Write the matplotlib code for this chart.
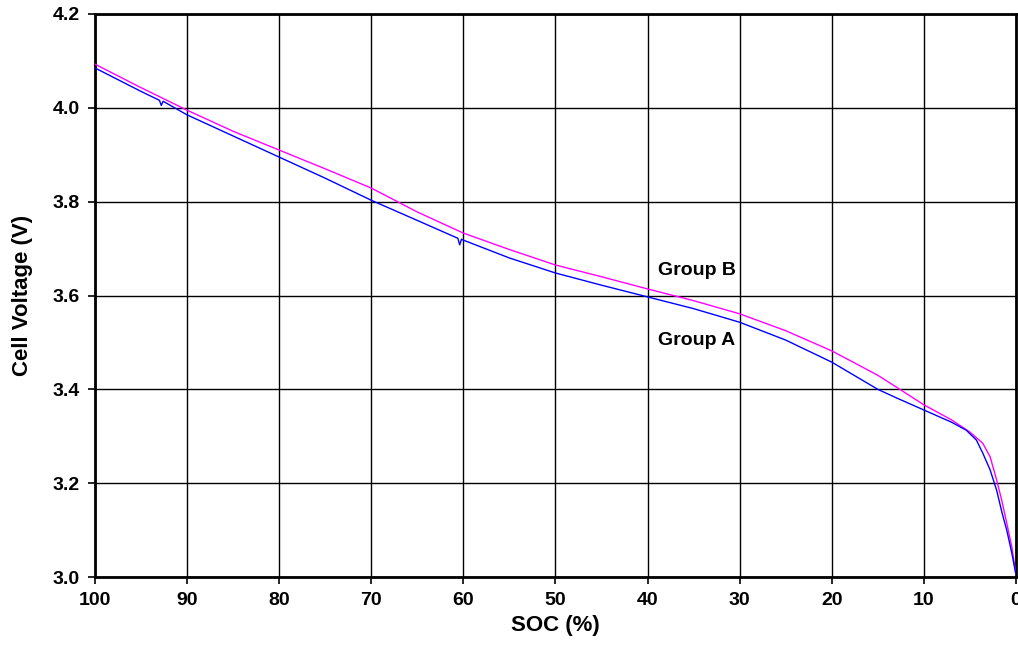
import matplotlib.pyplot as plt

plt.rcParams['font.family'] = ['Liberation Sans', 'DejaVu Sans']

# SOC (%) and cell voltages
soc_b = [100, 95, 90, 85, 80, 75, 70, 65, 60, 55, 50, 45, 40, 35, 30, 25, 20, 15,
         13, 10, 7, 5, 3.6, 2.8, 2.1, 1.55, 1.0, 0.45, 0]
volt_b = [4.093, 4.043, 3.995, 3.950, 3.910, 3.870, 3.829, 3.778, 3.733, 3.698,
          3.665, 3.640, 3.614, 3.589, 3.561, 3.525, 3.482, 3.430, 3.405, 3.367,
          3.335, 3.309, 3.285, 3.256, 3.207, 3.164, 3.115, 3.064, 3.005]

soc_a = [100, 95, 93, 92.8, 92.6, 90, 85, 80, 75, 70, 65, 60.6, 60.4, 60.2, 60,
         55, 50, 45, 40, 35, 30, 25, 20, 15, 13, 10, 7, 5.4, 4.3, 3.6, 2.8, 2.1,
         1.5, 1.0, 0.45, 0]
volt_a = [4.085, 4.035, 4.016, 4.005, 4.014, 3.985, 3.940, 3.895, 3.850, 3.803,
          3.760, 3.722, 3.708, 3.720, 3.718, 3.680, 3.648, 3.622, 3.597, 3.572,
          3.543, 3.505, 3.458, 3.400, 3.382, 3.356, 3.330, 3.313, 3.292, 3.264,
          3.228, 3.185, 3.136, 3.100, 3.051, 3.005]

x_ticks = [100, 90, 80, 70, 60, 50, 40, 30, 20, 10, 0]
y_ticks = [3.0, 3.2, 3.4, 3.6, 3.8, 4.0, 4.2]

fig = plt.figure(figsize=(10.18, 6.54), dpi=100)
ax = fig.add_axes([0.0933, 0.1177, 0.9047, 0.8609])

ax.plot(soc_b, volt_b, color='#ff00ff', lw=1.0, zorder=3)
ax.plot(soc_a, volt_a, color='#0000ff', lw=1.0, zorder=4)

ax.set_xlim(100, 0)
ax.set_ylim(3.0, 4.2)
ax.set_xticks(x_ticks)
ax.set_xticklabels([str(t) for t in x_ticks])
ax.set_yticks(y_ticks)
ax.set_yticklabels([f"{t:.1f}" for t in y_ticks])
ax.grid(True, color='black', lw=1.0)
ax.set_axisbelow(True)

for s in ax.spines.values():
    s.set_linewidth(2.0)
    s.set_color('black')
ax.tick_params(direction='out', length=5, width=1.2, colors='black', pad=6)
for lbl in ax.get_xticklabels() + ax.get_yticklabels():
    lbl.set_fontsize(14)
    lbl.set_fontweight('bold')

ax.set_xlabel("SOC (%)", fontsize=16, fontweight='bold', labelpad=4)
ax.set_ylabel("Cell Voltage (V)", fontsize=16, fontweight='bold', labelpad=14)

ax.text(38.9, 3.654, "Group B", fontsize=14, fontweight='bold', va='center', ha='left')
ax.text(38.9, 3.505, "Group A", fontsize=14, fontweight='bold', va='center', ha='left')

fig.savefig("out.png", dpi=100)
